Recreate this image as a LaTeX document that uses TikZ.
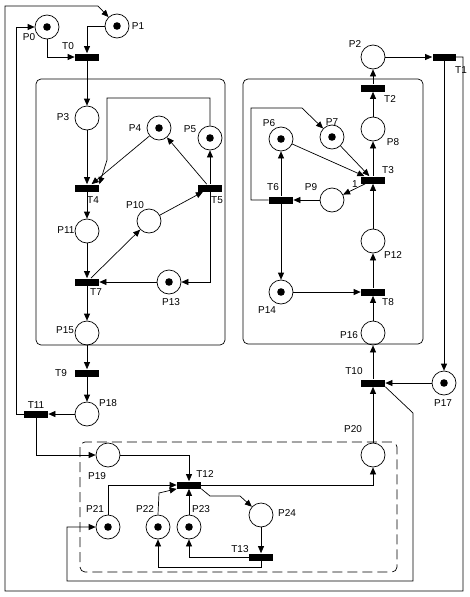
\documentclass[tikz,border=0pt]{standalone}
\usepackage{fontspec}
\setmainfont{Liberation Sans}
\usepackage{tikz}
\usetikzlibrary{arrows.meta, positioning}

\begin{document}
\begin{tikzpicture} [x = 1pt, y = -1pt,
          line width = 0.7pt,
          place/.style = {draw, circle, minimum size = 24pt, inner sep = 0pt},
          token/.style = {place, path picture = {\fill (path picture bounding box.center) circle (3.8pt);}},
          trans/.style = {fill, rectangle, minimum width = 24pt, minimum height = 7pt, inner sep = 0pt},
          lbl/.style = {font = \fontsize{10}{11}\selectfont, inner sep = 0pt},
          arc/.style = {-{Triangle[length = 7pt, width = 6pt]}},
          every edge/.style = {draw, arc}
          ]
          \useasboundingbox (0,0) rectangle (469,597);

          % Modules
          \draw [rounded corners = 5pt] (36,79) rectangle (225,345);
          \draw [rounded corners = 5pt] (243,79) rectangle (423,344);
          \draw [rounded corners = 5pt, dash pattern = on 10pt off 5pt] (80,442) rectangle (397,572);

          % Top
          \node (P0) [token] at (47,27) {};
          \node (P1) [token] at (117,26) {};
          \node (T0) [trans] at (87,57) {};
          \node (P2) [place] at (373,57) {};
          \node (T1) [trans, minimum width = 23pt] at (444,57) {};

          % Left module
          \node (P3) [place] at (87,118) {};
          \node (P4) [token] at (159,128) {};
          \node (P5) [token] at (210,138) {};
          \node (T4) [trans] at (87,188) {};
          \node (T5) [trans] at (210,188) {};
          \node (P10) [place] at (149,221) {};
          \node (P11) [place] at (87,231) {};
          \node (T7) [trans] at (87,282) {};
          \node (P13) [token] at (169,282) {};
          \node (P15) [place] at (87,333) {};
          \node (T9) [trans] at (87,373) {};
          \node (P18) [place] at (87,414) {};
          \node (T11) [trans] at (36,414) {};

          % Right module
          \node (T2) [trans] at (373,88) {};
          \node (P8) [place] at (373,129) {};
          \node (P6) [token] at (281,139) {};
          \node (P7) [token] at (332,137) {};
          \node (T3) [trans] at (373,180) {};
          \node (T6) [trans] at (281,200) {};
          \node (P9) [place] at (332,200) {};
          \node (P12) [place] at (373,241) {};
          \node (T8) [trans] at (373,292) {};
          \node (P14) [token] at (281,292) {};
          \node (P16) [place] at (373,333) {};
          \node (T10) [trans] at (373,383) {};
          \node (P17) [token] at (444,383) {};
          \node (P20) [place] at (373,455) {};

          % Bottom module
          \node (P19) [place] at (108,455) {};
          \node (T12) [trans] at (189,485) {};
          \node (P21) [token] at (108,527) {};
          \node (P22) [token] at (158,527) {};
          \node (P23) [token] at (189,527) {};
          \node (P24) [place] at (261,515) {};
          \node (T13) [trans] at (261,557) {};

          % Labels
          \node (lP0) [lbl] at (29,37) {P0};
          \node (lP1) [lbl] at (138,26) {P1};
          \node (lT0) [lbl] at (68,46) {T0};
          \node (lP2) [lbl] at (355,44) {P2};
          \node (lT1) [lbl] at (461,70) {T1};
          \node (lP3) [lbl] at (63,117) {P3};
          \node (lP4) [lbl] at (135,128) {P4};
          \node (lP5) [lbl] at (190,129) {P5};
          \node (lT4) [lbl] at (93,200) {T4};
          \node (lT5) [lbl] at (217,200) {T5};
          \node (lP10) [lbl] at (135,205) {P10};
          \node (lP11) [lbl] at (66,230) {P11};
          \node (lT7) [lbl] at (96,292) {T7};
          \node (lP13) [lbl] at (171,302) {P13};
          \node (lP15) [lbl] at (65,330) {P15};
          \node (lT9) [lbl] at (61,373) {T9};
          \node (lP18) [lbl] at (108,403) {P18};
          \node (lT11) [lbl] at (36,405) {T11};
          \node (lT2) [lbl] at (390,99) {T2};
          \node (lP8) [lbl] at (393,142) {P8};
          \node (lP6) [lbl] at (269,123) {P6};
          \node (lP7) [lbl] at (332,122) {P7};
          \node (lT3) [lbl] at (388,170) {T3};
          \node (lone) [lbl] at (355,184) {1};
          \node (lT6) [lbl] at (273,187) {T6};
          \node (lP9) [lbl] at (311,187) {P9};
          \node (lP12) [lbl] at (393,255) {P12};
          \node (lT8) [lbl] at (388,302) {T8};
          \node (lP14) [lbl] at (267,310) {P14};
          \node (lP16) [lbl] at (349,335) {P16};
          \node (lT10) [lbl] at (354,371) {T10};
          \node (lP17) [lbl] at (443,403) {P17};
          \node (lP20) [lbl] at (353,429) {P20};
          \node (lP19) [lbl] at (97,476) {P19};
          \node (lT12) [lbl] at (205,474) {T12};
          \node (lP21) [lbl] at (95,509) {P21};
          \node (lP22) [lbl] at (145,509) {P22};
          \node (lP23) [lbl] at (201,509) {P23};
          \node (lP24) [lbl] at (287,513) {P24};
          \node (lT13) [lbl] at (240,549) {T13};

          % Bends
          \coordinate (o1) at (463,57);
          \coordinate (o2) at (463,591);
          \coordinate (o3) at (5,591);
          \coordinate (o4) at (5,6);
          \coordinate (o5) at (98,6);
          \coordinate (a0) at (16,414);
          \coordinate (b5) at (210,98);
          \coordinate (b4) at (107,98);
          \coordinate (c4) at (107,160);
          \coordinate (b6) at (251,200);
          \coordinate (c6) at (251,108);
          \coordinate (d6) at (302,108);
          \coordinate (b10) at (413,413);
          \coordinate (c10) at (413,581);
          \coordinate (d10) at (67,581);
          \coordinate (b22) at (159,493);
          \coordinate (b12) at (210,496);
          \coordinate (c12) at (240,496);
          \coordinate (b13) at (261,567);

          % Links
          \path
            (P2) edge (T1)
            (T1) edge (P17)
            (T0) edge (P3)
            (P3) edge (T4)
            (P4) edge (T4)
            (T5) edge (P4)
            (T5) edge (P5)
            (P10) edge (T5)
            (T4) edge (P11)
            (P11) edge (T7)
            (T7) edge (P10)
            (P13) edge (T7)
            (T7) edge (P15)
            (P15) edge (T9)
            (T9) edge (P18)
            (P18) edge (T11)

            (T2) edge (P2)
            (P8) edge (T2)
            (T3) edge (P8)
            (P6) edge (T3)
            (P7) edge (T3)
            (T3) edge (P9)
            (P9) edge (T6)
            (T6) edge (P6)
            (T6) edge (P14)
            (P12) edge (T3)
            (T8) edge (P12)
            (P14) edge (T8)
            (P16) edge (T8)
            (T10) edge (P16)
            (P17) edge (T10)
            (P20) edge (T10)

            (P23) edge (T12)
            (P24) edge (T13);

          \draw [arc] (P0.south) |- (T0.west);
          \draw [arc] (P1.west) -| (T0.north);
          \draw [arc] (P5.north) -- (b5) -- (b4) -- (c4) -- (T4.north east);
          \draw [arc] (T5.south) |- (P13.east);
          \draw [arc] (T11.west) -- (a0) |- (P0.west);
          \draw [arc] (T11.south) |- (P19.west);
          \draw [arc] (T1.east) -- (o1) -- (o2) -- (o3) -- (o4) -- (o5) -- (P1);
          \draw [arc] (T6.west) -- (b6) -- (c6) -- (d6) -- (P7);
          \draw [arc] (T10.south east) -- (b10) -- (c10) -- (d10) |- (P21.west);
          \draw [arc] (P19.east) -| (T12.north);
          \draw [arc] (T12.east) -| (P20.south);
          \draw [arc] (P21.north) |- (T12.west);
          \draw [arc] (P22.north) -- (b22) -- (T12.south west);
          \draw [arc] (T12.south east) -- (b12) -- (c12) -- (P24);
          \draw [arc] (T13.west) -| (P23.south);
          \draw [arc] (T13.south) -- (b13) -| (P22.south);

        \end{tikzpicture}
\end{document}
